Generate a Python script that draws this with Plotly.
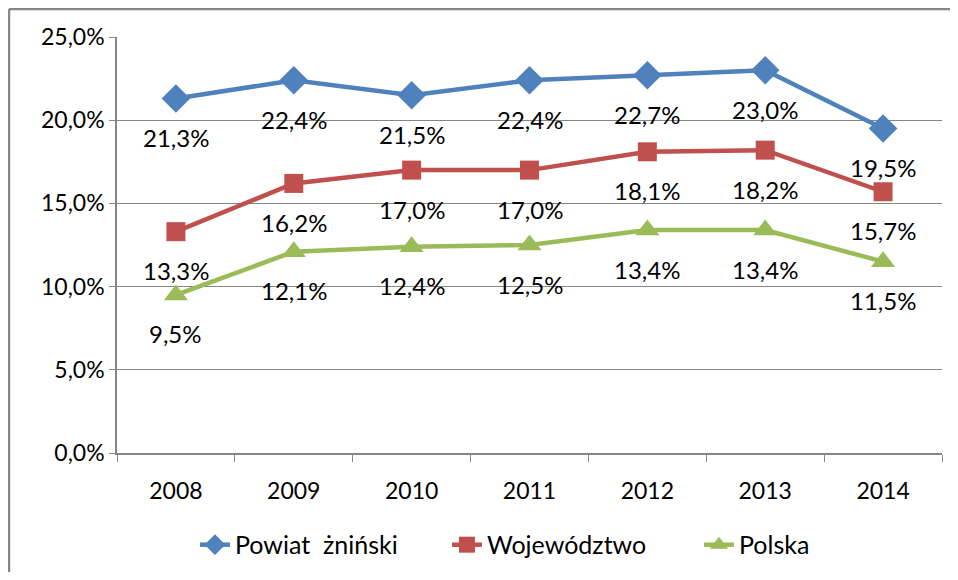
import plotly.graph_objects as go

years = ["2008", "2009", "2010", "2011", "2012", "2013", "2014"]
powiat = [21.3, 22.4, 21.5, 22.4, 22.7, 23.0, 19.5]
wojewodztwo = [13.3, 16.2, 17.0, 17.0, 18.1, 18.2, 15.7]
polska = [9.5, 12.1, 12.4, 12.5, 13.4, 13.4, 11.5]

series = [
    ("Powiat \u00a0żniński", powiat, "#4F81BD", "diamond", 22),
    ("Województwo", wojewodztwo, "#C0504D", "square", 19),
    ("Polska", polska, "#9BBB59", "triangle-up", 21),
]

FONT = "Lato, 'Open Sans', sans-serif"

fig = go.Figure()
annotations = []
for name, vals, color, symbol, size in series:
    fig.add_trace(go.Scatter(
        x=years, y=vals, name=name, mode="lines+markers",
        line=dict(color=color, width=4.5),
        marker=dict(symbol=symbol, size=size, color=color),
    ))
    # labels sit well below each point, as in the source chart
    for i, v in enumerate(vals):
        annotations.append(dict(
            x=i, y=v, text=f"{v:.1f}".replace(".", ",") + "%",
            showarrow=False, yshift=-39,
            font=dict(size=24, color="#000", family=FONT),
        ))

# chart frame: only top and left edges are visible in the source
frame = dict(color="#868686", width=2.5)
shapes = [
    dict(type="line", xref="paper", yref="paper",
         x0=-0.1309, x1=1.1, y0=1.0673, y1=1.0673, line=frame),
    dict(type="line", xref="paper", yref="paper",
         x0=-0.1309, x1=-0.1309, y0=-0.4, y1=1.0673, line=frame),
]

# page body has an 8px margin all round, so the figure fits inside it
fig.update_layout(
    width=942, height=564,
    margin=dict(l=109, r=8, t=29, b=119, autoexpand=False),
    paper_bgcolor="white", plot_bgcolor="white",
    font=dict(family=FONT, size=23, color="#000"),
    separators=",.",
    annotations=annotations,
    shapes=shapes,
    showlegend=True,
    legend=dict(orientation="h", x=0.0945, xanchor="left", y=-0.221,
                yanchor="middle", font=dict(size=25),
                entrywidth=207, tracegroupgap=0),
)
fig.update_xaxes(
    type="category", tickangle=0, range=[-0.5, 6.5],
    showline=True, linecolor="#868686", linewidth=1.5,
    ticks="outside", tickson="boundaries", ticklen=7, tickcolor="#868686",
    ticklabelstandoff=17,
    showgrid=False, tickfont=dict(size=23),
)
fig.update_yaxes(
    range=[0, 25], dtick=5, tickformat=".1f", ticksuffix="%",
    showline=True, linecolor="#868686", linewidth=1.5,
    showgrid=True, gridcolor="#868686", gridwidth=1.2,
    ticks="outside", ticklen=6, tickcolor="#868686",
    tickfont=dict(size=23), zeroline=False,
)

fig.write_html("out.html")
